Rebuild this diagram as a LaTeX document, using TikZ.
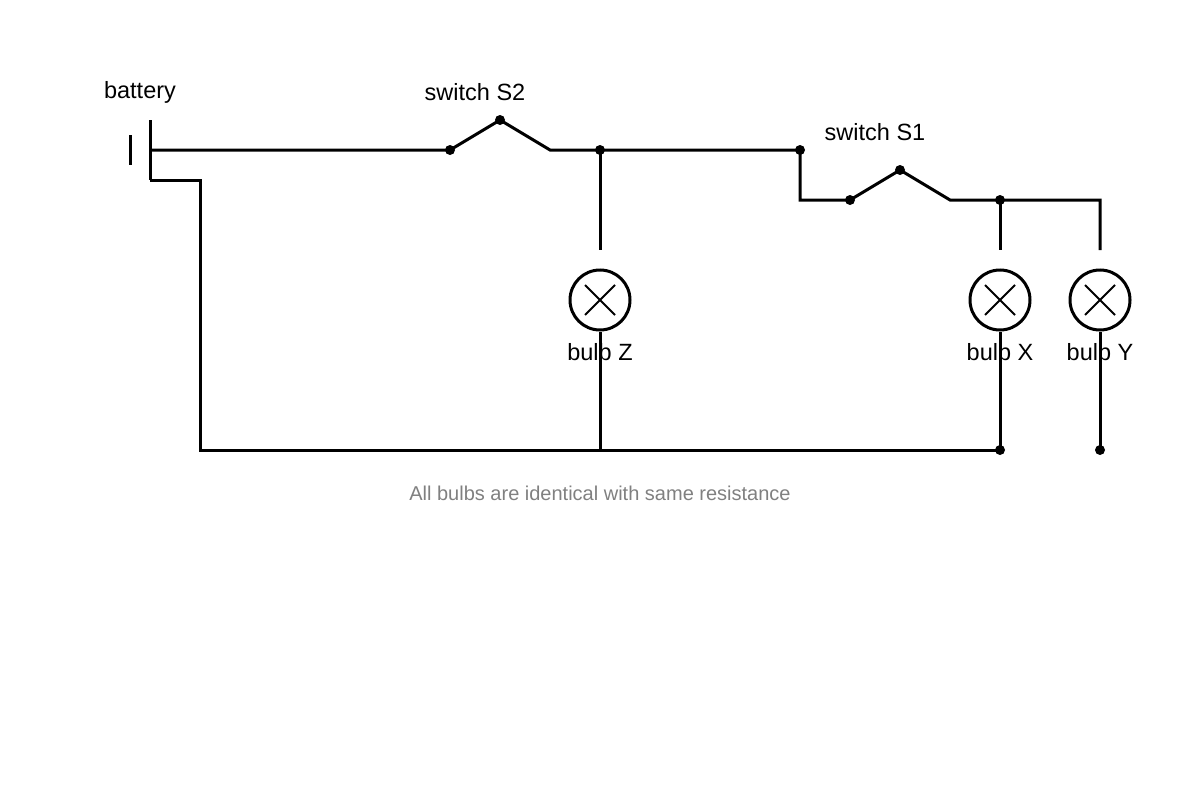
\documentclass[tikz,border=0pt]{standalone}
\usepackage{fontspec}
\setmainfont{Liberation Sans}
\tikzset{
  wire/.style={line width=3pt},
  dot/.style={circle,fill,inner sep=0pt,minimum size=10pt},
  bulb/.style={circle,draw,line width=3pt,minimum size=60pt,inner sep=0pt,
    path picture={\draw[line width=2pt] ([shift={(-15pt,-15pt)}]path picture bounding box.center)--++(30pt,30pt)
      ([shift={(-15pt,15pt)}]path picture bounding box.center)--++(30pt,-30pt);}},
  lbl/.style={font=\fontsize{23.5}{27}\selectfont}
}
\begin{document}
\begin{tikzpicture}[x=1pt,y=-1pt]
\useasboundingbox (0,0) rectangle (1200,800);
% battery
\draw[wire] (150,120)--(150,180);
\draw[wire] (130,135)--(130,165);
\node[lbl] at (140,92){battery};
\coordinate (bp) at (150,150);
\coordinate (bn) at (150,180);
\coordinate (c1) at (200,180);
\coordinate (c2) at (200,450);
% junctions
\foreach \n/\x/\y in {s2a/450/150,s2b/500/120,j1/600/150,j2/800/150,s1a/850/200,s1b/900/170,j3/1000/200,gx/1000/450,gy/1100/450}
{
    \node[dot] (\n) at (\x,\y){};
}
\coordinate (s2c) at (550,150);
\coordinate (c3) at (800,200);
\coordinate (s1c) at (950,200);
\coordinate (c4) at (1100,200);
% bulbs
\foreach \n/\x/\t in {bz/600/Z,bx/1000/X,by/1100/Y}
{
    \node[bulb] (\n) at (\x,300){};
    \node[lbl] at (\x,352){bulb \t};
}
\coordinate (tz) at (600,250);
\coordinate (tx) at (1000,250);
\coordinate (ty) at (1100,250);
\coordinate (gz) at (600,450);
% wires
\draw[wire] (bp)--(s2a.center)--(s2b.center)--(s2c)--(j2.center)--(c3)--(s1a.center)--(s1b.center)--(s1c)--(c4)--(ty);
\draw[wire] (bn)--(c1)--(c2)--(gx.center);
\draw[wire] (j1.center)--(tz);
\draw[wire] (j3.center)--(tx);
\draw[wire] (bz.south)--(gz);
\draw[wire] (bx.south)--(gx.center);
\draw[wire] (by.south)--(gy.center);
\node[lbl] at (475,92){switch S2};
\node[lbl] at (875,132){switch S1};
\node[text=gray,font=\fontsize{20}{24}\selectfont] at (600,493){All bulbs are identical with same resistance};
\end{tikzpicture}
\end{document}
